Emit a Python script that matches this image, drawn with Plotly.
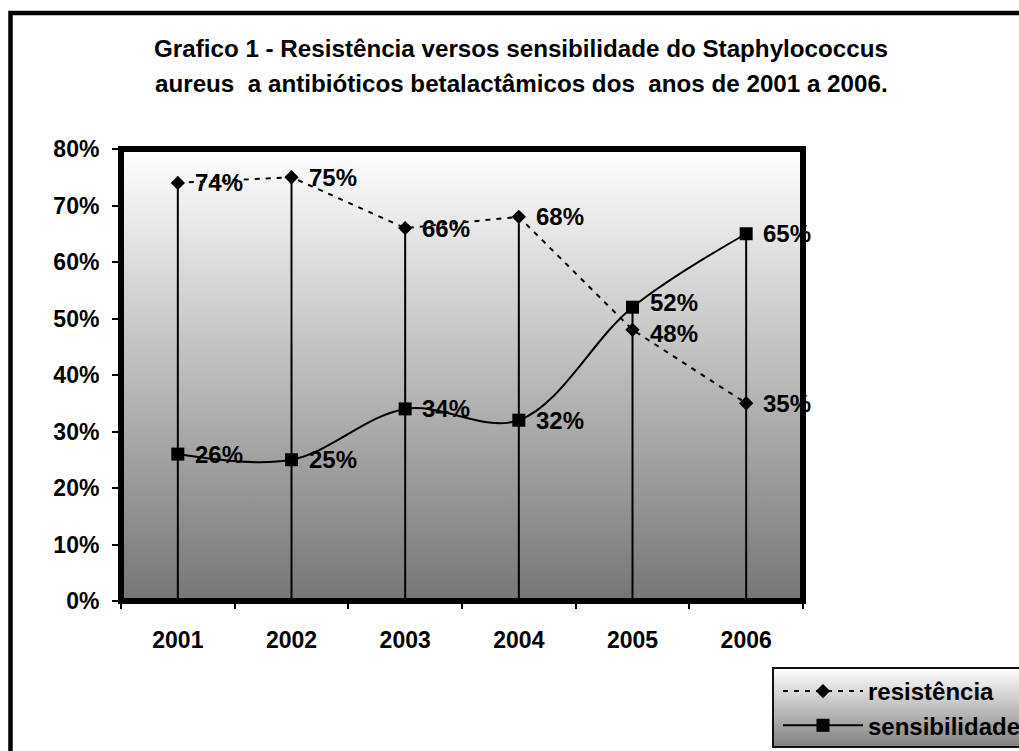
import plotly.graph_objects as go

# --- data ---
anos = ["2001", "2002", "2003", "2004", "2005", "2006"]
resistencia = [74, 75, 66, 68, 48, 35]
sensibilidade = [26, 25, 34, 32, 52, 65]
y_ticks = [0, 10, 20, 30, 40, 50, 60, 70, 80]

titulo_1 = "Grafico 1 - Resistência versos sensibilidade do Staphylococcus"
titulo_2 = "aureus\u00a0 a antibióticos betalactâmicos dos\u00a0 anos de 2001 a 2006."

W, H = 1019, 751
FONT = "Liberation Sans, Arial, sans-serif"

# plot box in pixels
PX_L, PX_R, PX_T, PX_B = 121, 803, 149, 601
# legend box in pixels
LG_L, LG_T, LG_B = 773, 668, 747


def px_x(p):
    return p / W


def px_y(p):
    return 1 - p / H


y_max = y_ticks[-1]
n = len(anos)
dom_x = [px_x(PX_L), px_x(PX_R)]
dom_y = [px_y(PX_B), px_y(PX_T)]
px_per_unit = (PX_B - PX_T) / y_max

fig = go.Figure()

# gradient background of the plot area (hidden linear axes x/y, drawn first)
fig.add_trace(go.Scatter(
    x=[0, 1, 1, 0, 0], y=[0, 0, 1, 1, 0], xaxis="x", yaxis="y",
    mode="lines", fill="toself", line=dict(width=0),
    fillgradient=dict(type="vertical",
                      colorscale=[[0, "#767676"], [1, "#ffffff"]]),
    hoverinfo="skip", showlegend=False,
))

# drop lines from the highest point of each year down to the axis
dx, dy = [], []
for i, a in enumerate(anos):
    dx += [a, a, None]
    dy += [max(resistencia[i], sensibilidade[i]), 0, None]
fig.add_trace(go.Scatter(
    x=dx, y=dy, xaxis="x2", yaxis="y2", mode="lines",
    line=dict(color="black", width=2),
    hoverinfo="skip", showlegend=False,
))

fig.add_trace(go.Scatter(
    x=anos, y=resistencia, name="resistência", mode="lines+markers",
    xaxis="x2", yaxis="y2",
    line=dict(color="black", width=2, dash="5px,6px"),
    marker=dict(symbol="diamond", size=11, color="black"),
))
fig.add_trace(go.Scatter(
    x=anos, y=sensibilidade, name="sensibilidade", mode="lines+markers",
    xaxis="x2", yaxis="y2",
    line=dict(color="black", width=2, shape="spline", smoothing=1.0),
    marker=dict(symbol="square", size=13, color="black"),
))

# legend background gradient on its own hidden axes
fig.add_trace(go.Scatter(
    x=[0, 1, 1, 0, 0], y=[0, 0, 1, 1, 0], xaxis="x3", yaxis="y3",
    mode="lines", fill="toself", line=dict(width=0),
    fillgradient=dict(type="vertical",
                      colorscale=[[0, "#808080"], [1, "#ffffff"]]),
    hoverinfo="skip", showlegend=False,
))

# value labels; labels of the same year that sit too close are pushed apart
LABEL_GAP = 31
ann = []
for i in range(n):
    r, s = resistencia[i], sensibilidade[i]
    sep = abs(r - s) * px_per_unit
    push = max(0.0, (LABEL_GAP - sep) / 2)
    for v, other in ((r, s), (s, r)):
        shift = push if v >= other else -push
        ann.append(dict(
            x=i, y=v, xref="x2", yref="y2", text=f"{v}%", showarrow=False,
            xanchor="left", yanchor="middle", xshift=15, yshift=shift,
            font=dict(family=FONT, size=24, color="black", weight="bold"),
        ))

for txt, ypx in ((titulo_1, 49), (titulo_2, 83)):
    ann.append(dict(
        x=px_x(521), y=px_y(ypx), xref="paper", yref="paper", text=txt,
        showarrow=False, xanchor="center", yanchor="middle",
        font=dict(family=FONT, size=24.2, color="black", weight="bold"),
    ))

shapes = [
    # outer frame
    dict(type="rect", xref="paper", yref="paper",
         x0=px_x(10.5), x1=1.05, y0=-0.05, y1=px_y(13),
         line=dict(color="black", width=4.5), layer="above"),
    # plot frame
    dict(type="rect", xref="x2 domain", yref="y2 domain",
         x0=0, x1=1, y0=0, y1=1,
         line=dict(color="black", width=6), layer="above"),
    # legend frame
    dict(type="rect", xref="paper", yref="paper",
         x0=px_x(LG_L), x1=1.05, y0=px_y(LG_B), y1=px_y(LG_T),
         line=dict(color="#111111", width=2), layer="above"),
]

fig.update_layout(
    width=W, height=H,
    margin=dict(l=0, r=0, t=0, b=0, autoexpand=False),
    paper_bgcolor="white", plot_bgcolor="rgba(0,0,0,0)",
    font=dict(family=FONT, size=23, color="black"),
    showlegend=True,
    legend=dict(
        x=px_x(LG_L + 5), y=px_y(LG_T + 1), xanchor="left", yanchor="top",
        bgcolor="rgba(0,0,0,0)", borderwidth=0, itemwidth=80,
        font=dict(family=FONT, size=24, color="black", weight="bold"),
        tracegroupgap=0,
    ),
    xaxis=dict(domain=dom_x, range=[0, 1], visible=False,
               anchor="y", fixedrange=True),
    yaxis=dict(domain=dom_y, range=[0, 1], visible=False,
               anchor="x", fixedrange=True),
    xaxis2=dict(
        domain=dom_x, type="category",
        categoryorder="array", categoryarray=anos,
        range=[-0.5, n - 0.5], showgrid=False, zeroline=False,
        ticks="outside", tickson="boundaries", ticklen=7, tickwidth=2,
        tickcolor="black", ticklabelstandoff=23,
        tickfont=dict(family=FONT, size=23, color="black", weight="bold"),
        anchor="y2", fixedrange=True,
    ),
    yaxis2=dict(
        domain=dom_y, range=[0, y_max],
        tickvals=y_ticks, ticktext=[f"{t}%" for t in y_ticks],
        showgrid=False, zeroline=False,
        ticks="outside", ticklen=8, tickwidth=2, tickcolor="black",
        ticklabelstandoff=8,
        tickfont=dict(family=FONT, size=23, color="black", weight="bold"),
        anchor="x2", fixedrange=True,
    ),
    xaxis3=dict(domain=[px_x(LG_L), 1], range=[0, 1], visible=False,
                anchor="y3", fixedrange=True),
    yaxis3=dict(domain=[px_y(LG_B), px_y(LG_T)], range=[0, 1],
                visible=False, anchor="x3", fixedrange=True),
    annotations=ann,
    shapes=shapes,
)

fig.write_html("out.html")
